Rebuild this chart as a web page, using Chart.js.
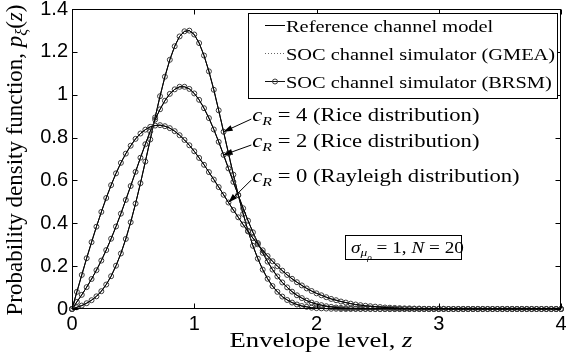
<!DOCTYPE html>
<html>
<head>
<meta charset="utf-8">
<script src="https://cdn.jsdelivr.net/npm/chart.js@4.4.1/dist/chart.umd.min.js"></script>
<style>
body { margin: 0; background: #fff; }
#wrap { width: 566px; height: 360px; }
</style>
</head>
<body>
<div id="wrap"><canvas id="myChart" width="566" height="360"></canvas></div>
<script>
// envelope level z, step 0.04
const zLevels = [
    0, 0.04, 0.08, 0.12, 0.16, 0.2, 0.24, 0.28, 0.32, 0.36,
    0.4, 0.44, 0.48, 0.52, 0.56, 0.6, 0.64, 0.68, 0.72, 0.76,
    0.8, 0.84, 0.88, 0.92, 0.96, 1, 1.04, 1.08, 1.12, 1.16,
    1.2, 1.24, 1.28, 1.32, 1.36, 1.4, 1.44, 1.48, 1.52, 1.56,
    1.6, 1.64, 1.68, 1.72, 1.76, 1.8, 1.84, 1.88, 1.92, 1.96,
    2, 2.04, 2.08, 2.12, 2.16, 2.2, 2.24, 2.28, 2.32, 2.36,
    2.4, 2.44, 2.48, 2.52, 2.56, 2.6, 2.64, 2.68, 2.72, 2.76,
    2.8, 2.84, 2.88, 2.92, 2.96, 3, 3.04, 3.08, 3.12, 3.16,
    3.2, 3.24, 3.28, 3.32, 3.36, 3.4, 3.44, 3.48, 3.52, 3.56,
    3.6, 3.64, 3.68, 3.72, 3.76, 3.8, 3.84, 3.88, 3.92, 3.96,
    4
];

// c_R = 0 (Rayleigh)
const pdfRayleigh = [
    0.000, 0.080, 0.159, 0.237, 0.312, 0.384, 0.453, 0.518, 0.578, 0.633,
    0.682, 0.725, 0.762, 0.794, 0.819, 0.837, 0.850, 0.856, 0.858, 0.853,
    0.844, 0.830, 0.811, 0.789, 0.764, 0.736, 0.705, 0.673, 0.639, 0.604,
    0.569, 0.533, 0.497, 0.462, 0.428, 0.394, 0.362, 0.331, 0.302, 0.274,
    0.247, 0.223, 0.200, 0.179, 0.159, 0.141, 0.125, 0.110, 0.096, 0.084,
    0.073, 0.064, 0.055, 0.047, 0.041, 0.035, 0.030, 0.025, 0.021, 0.018,
    0.015, 0.013, 0.011, 0.009, 0.007, 0.006, 0.005, 0.004, 0.003, 0.003,
    0.002, 0.002, 0.001, 0.001, 0.001, 0.001, 0.001, 0, 0, 0,
    0, 0, 0, 0, 0, 0, 0, 0, 0, 0,
    0, 0, 0, 0, 0, 0, 0, 0, 0, 0,
    0
];

// c_R = 2 (Rice)
const pdfRice2 = [
    0.000, 0.033, 0.066, 0.102, 0.140, 0.181, 0.226, 0.275, 0.328, 0.385,
    0.445, 0.509, 0.574, 0.640, 0.706, 0.769, 0.829, 0.884, 0.932, 0.972,
    1.004, 1.025, 1.037, 1.037, 1.027, 1.006, 0.976, 0.937, 0.891, 0.838,
    0.780, 0.719, 0.656, 0.593, 0.531, 0.470, 0.412, 0.358, 0.308, 0.262,
    0.221, 0.184, 0.152, 0.124, 0.101, 0.081, 0.064, 0.051, 0.039, 0.030,
    0.023, 0.018, 0.013, 0.010, 0.007, 0.005, 0.004, 0.003, 0.002, 0.001,
    0.001, 0.001, 0, 0, 0, 0, 0, 0, 0, 0,
    0, 0, 0, 0, 0, 0, 0, 0, 0, 0,
    0, 0, 0, 0, 0, 0, 0, 0, 0, 0,
    0, 0, 0, 0, 0, 0, 0, 0, 0, 0,
    0
];

// c_R = 4 (Rice)
const pdfRice4 = [
    0.000, 0.008, 0.016, 0.027, 0.041, 0.059, 0.083, 0.114, 0.153, 0.202,
    0.259, 0.327, 0.405, 0.492, 0.587, 0.688, 0.791, 0.894, 0.993, 1.084,
    1.163, 1.226, 1.272, 1.296, 1.299, 1.281, 1.241, 1.183, 1.109, 1.023,
    0.927, 0.827, 0.726, 0.627, 0.532, 0.444, 0.365, 0.295, 0.235, 0.184,
    0.141, 0.107, 0.080, 0.058, 0.042, 0.030, 0.021, 0.014, 0.010, 0.006,
    0.004, 0.003, 0.002, 0.001, 0.001, 0, 0, 0, 0, 0,
    0, 0, 0, 0, 0, 0, 0, 0, 0, 0,
    0, 0, 0, 0, 0, 0, 0, 0, 0, 0,
    0, 0, 0, 0, 0, 0, 0, 0, 0, 0,
    0, 0, 0, 0, 0, 0, 0, 0, 0, 0,
    0
];

const xTicks = [0, 1, 2, 3, 4];
const yTicks = [0, 0.2, 0.4, 0.6, 0.8, 1, 1.2, 1.4];
const legendLabels = [
    'Reference channel model',
    'SOC channel simulator (GMEA)',
    'SOC channel simulator (BRSM)'
];
const curveFactors = ['0', '2', '4'];
const curveNames = ['Rayleigh distribution', 'Rice distribution', 'Rice distribution'];

const models = [
    { label: legendLabels[0], color: '#000', dash: [], marker: false },
    { label: legendLabels[1], color: '#666', dash: [1, 2], marker: false },
    { label: legendLabels[2], color: '#111', dash: [], marker: true }
];
const curves = [pdfRayleigh, pdfRice2, pdfRice4];

const datasets = [];
curves.forEach(vals => {
    models.forEach(m => {
        datasets.push({
            label: m.label,
            data: zLevels.map((z, i) => ({ x: z, y: vals[i] })),
            borderColor: m.color,
            borderWidth: 1,
            borderDash: m.dash,
            pointRadius: m.marker ? 2.5 : 0,
            pointBorderColor: '#3a3a3a',
            pointBackgroundColor: 'rgba(0,0,0,0)',
            pointBorderWidth: 1,
            tension: 0,
            fill: false,
            clip: false
        });
    });
});

const SERIF = '"Liberation Serif", "Times New Roman", serif';

function drawRuns(ctx, runs, x, y, size, sx, align) {
    const fontFor = r => (r.it ? 'italic ' : '') +
        (size * (r.sub === 2 ? 0.5 : r.sub ? 0.7 : 1)) + 'px ' + SERIF;
    let w = 0;
    runs.forEach(r => { ctx.font = fontFor(r); w += ctx.measureText(r.t).width; });
    ctx.save();
    ctx.translate(x - (align === 'center' ? w * sx / 2 : 0), y);
    ctx.scale(sx, 1);
    ctx.fillStyle = '#000';
    ctx.textBaseline = 'alphabetic';
    ctx.textAlign = 'left';
    let cx = 0;
    runs.forEach(r => {
        ctx.font = fontFor(r);
        const dy = r.sub === 2 ? size * 0.42 : r.sub ? size * 0.2 : 0;
        ctx.fillText(r.t, cx, dy);
        cx += ctx.measureText(r.t).width;
    });
    ctx.restore();
    return w * sx;
}

function arrow(ctx, x0, y0, x1, y1) {
    const a = Math.atan2(y1 - y0, x1 - x0);
    ctx.beginPath();
    ctx.moveTo(x0, y0);
    ctx.lineTo(x1, y1);
    ctx.stroke();
    ctx.beginPath();
    ctx.moveTo(x1, y1);
    ctx.lineTo(x1 - 9 * Math.cos(a) + 3 * Math.sin(a), y1 - 9 * Math.sin(a) - 3 * Math.cos(a));
    ctx.lineTo(x1 - 9 * Math.cos(a) - 3 * Math.sin(a), y1 - 9 * Math.sin(a) + 3 * Math.cos(a));
    ctx.closePath();
    ctx.fill();
}

const decorations = {
    id: 'decorations',
    afterDraw(chart) {
        const ctx = chart.ctx;
        const area = chart.chartArea;
        const xs = chart.scales.x;
        const ys = chart.scales.y;
        const L = Math.round(area.left) + 0.5, R = Math.round(area.right) - 0.5;
        const T = Math.round(area.top) + 0.5, B = Math.round(area.bottom) - 0.5;

        ctx.save();
        ctx.strokeStyle = '#000';
        ctx.fillStyle = '#000';
        ctx.lineWidth = 1;

        // inward ticks on all four sides
        ctx.beginPath();
        xTicks.forEach(v => {
            const px = Math.round(xs.getPixelForValue(v)) + 0.5;
            ctx.moveTo(px, B); ctx.lineTo(px, B - 5);
            ctx.moveTo(px, T); ctx.lineTo(px, T + 5);
        });
        yTicks.forEach(v => {
            const py = Math.round(ys.getPixelForValue(v)) + 0.5;
            ctx.moveTo(L, py); ctx.lineTo(L + 5, py);
            ctx.moveTo(R, py); ctx.lineTo(R - 5, py);
        });
        ctx.stroke();
        ctx.strokeRect(L, T, R - L, B - T);

        // axis titles
        drawRuns(ctx, [{ t: 'Envelope level, ' }, { t: 'z', it: true }],
            321, 347, 21, 1.27, 'center');
        ctx.save();
        ctx.translate(22, 160);
        ctx.rotate(-Math.PI / 2);
        drawRuns(ctx, [
            { t: 'Probability density function, ' },
            { t: 'p', it: true }, { t: 'ξ', it: true, sub: 1 },
            { t: '(' }, { t: 'z', it: true }, { t: ')' }
        ], 0, 0, 23, 1, 'center');
        ctx.restore();

        // curve notes with arrows
        const noteZ = 1.475;
        const noteBase = [0.593, 0.756, 0.877];
        const tipIndex = [32, 31, 31];
        curves.forEach((vals, k) => {
            const tx = xs.getPixelForValue(noteZ);
            const ty = ys.getPixelForValue(noteBase[k]);
            drawRuns(ctx, [
                { t: 'c', it: true }, { t: 'R', it: true, sub: 1 },
                { t: ' = ' + curveFactors[k] + ' (' + curveNames[k] + ')' }
            ], tx, ty, 19, 1.19);
            const i = tipIndex[k];
            arrow(ctx, tx - 1, ty - 2, xs.getPixelForValue(zLevels[i]), ys.getPixelForValue(vals[i]));
        });

        // legend box
        const lx = 248.5, ly = 13.5, lw = 309, lh = 85;
        ctx.fillStyle = '#fff';
        ctx.fillRect(lx, ly, lw, lh);
        ctx.strokeStyle = '#000';
        ctx.strokeRect(lx, ly, lw, lh);
        models.forEach((m, k) => {
            const cy = 25.5 + k * 28;
            ctx.save();
            ctx.strokeStyle = m.color;
            ctx.setLineDash(m.dash);
            ctx.beginPath();
            ctx.moveTo(265, cy); ctx.lineTo(285, cy);
            ctx.stroke();
            ctx.restore();
            if (m.marker) {
                ctx.save();
                ctx.strokeStyle = '#3a3a3a';
                ctx.beginPath();
                ctx.arc(275, cy, 2.5, 0, Math.PI * 2);
                ctx.stroke();
                ctx.restore();
            }
            drawRuns(ctx, [{ t: m.label }], 286, cy + 6, 17, 1.2);
        });

        // parameter box
        ctx.fillStyle = '#fff';
        ctx.fillRect(345.5, 235.5, 116, 24);
        ctx.strokeStyle = '#000';
        ctx.strokeRect(345.5, 235.5, 116, 24);
        drawRuns(ctx, [
            { t: 'σ', it: true }, { t: 'μ', it: true, sub: 1 }, { t: 'ρ', it: true, sub: 2 },
            { t: ' = 1, ' }, { t: 'N', it: true }, { t: ' = 20' }
        ], 351, 253, 16, 1.2);

        ctx.restore();
    }
};

Chart.defaults.color = '#000';

const ctx = document.getElementById('myChart').getContext('2d');
const myChart = new Chart(ctx, {
    type: 'line',
    data: { datasets: datasets },
    options: {
        responsive: false,
        animation: false,
        devicePixelRatio: 1,
        layout: { padding: { top: 9, right: 2, left: 0, bottom: 0 } },
        plugins: { legend: { display: false }, tooltip: { enabled: false } },
        scales: {
            x: {
                type: 'linear',
                min: 0,
                max: 4,
                afterBuildTicks: s => { s.ticks = xTicks.map(v => ({ value: v })); },
                afterFit: s => { s.height = 51; s.paddingLeft = 0; s.paddingRight = 0; },
                grid: { display: false, drawTicks: false },
                border: { display: false },
                ticks: {
                    font: { family: 'Liberation Sans', size: 20 }, color: '#000', padding: 3, maxRotation: 0,
                    callback: v => String(+v.toFixed(2))
                }
            },
            y: {
                type: 'linear',
                min: 0,
                max: 1.4,
                afterBuildTicks: s => { s.ticks = yTicks.map(v => ({ value: v })); },
                afterFit: s => { s.width = 72; s.paddingTop = 0; s.paddingBottom = 0; },
                grid: { display: false, drawTicks: false },
                border: { display: false },
                ticks: {
                    font: { family: 'Liberation Sans', size: 20 }, color: '#000', padding: 4,
                    callback: v => String(+v.toFixed(2))
                }
            }
        }
    },
    plugins: [decorations]
});
</script>
</body>
</html>
